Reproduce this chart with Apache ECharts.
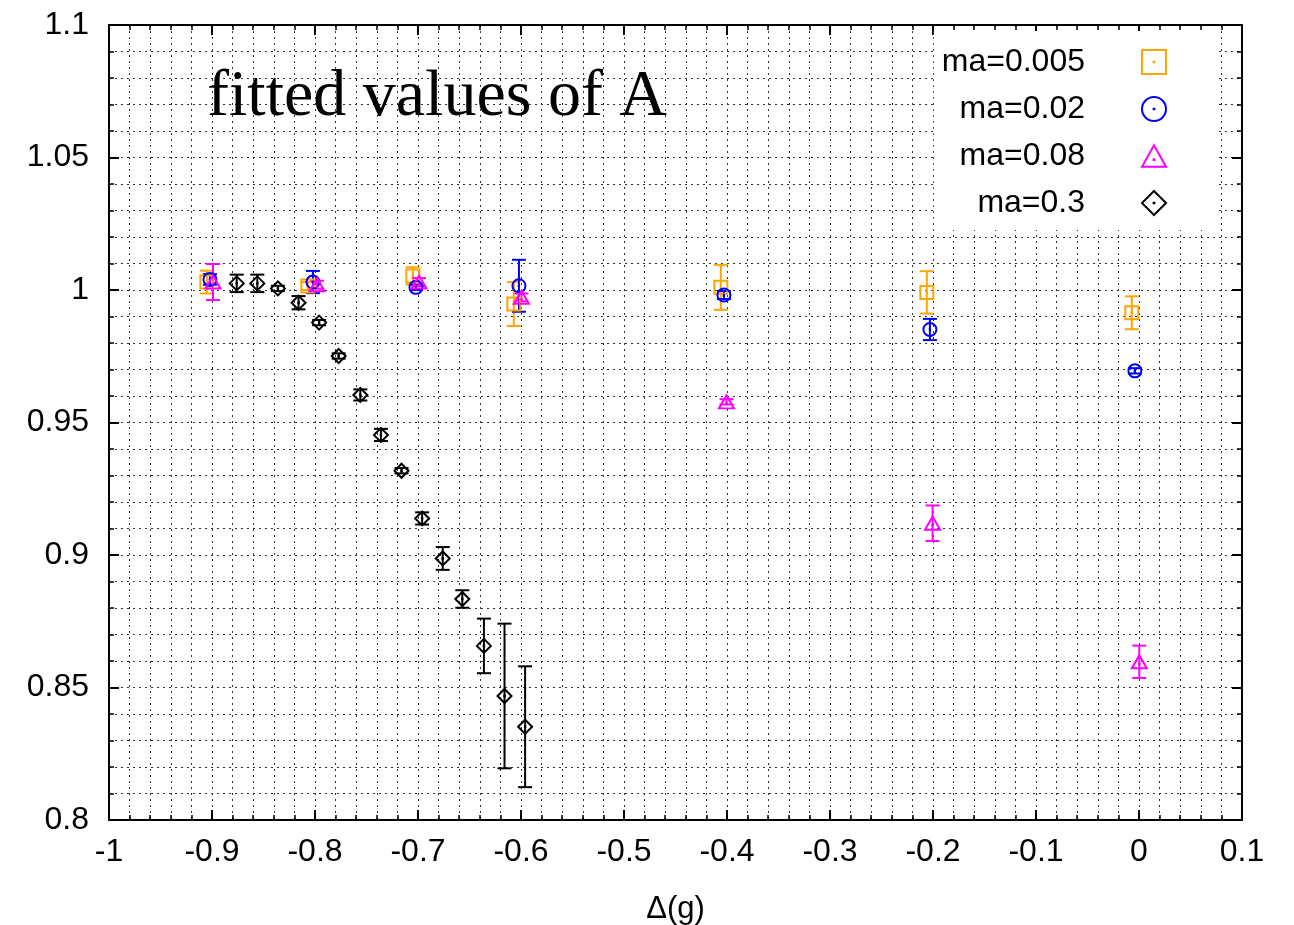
<!DOCTYPE html>
<html>
<head>
<meta charset="utf-8">
<script src="https://cdn.jsdelivr.net/npm/echarts@6/dist/echarts.min.js"></script>
<style>
html,body{margin:0;padding:0;background:#fff;}
#chart{width:1294px;height:925px;}
</style>
</head>
<body>
<div id="chart"></div>
<script>
// ---- data ----
var seriesNames = ['ma=0.005', 'ma=0.02', 'ma=0.08', 'ma=0.3'];

var x005 = [-0.905, -0.807, -0.705, -0.607, -0.406, -0.206, -0.007];
var y005 = [1.0030, 1.0015, 1.0053, 0.9947, 1.0010, 0.9991, 0.9914];
var e005 = [0.0043, 0.0015, 0.0033, 0.0083, 0.0085, 0.0080, 0.0062];

var x02 = [-0.902, -0.802, -0.702, -0.602, -0.403, -0.203, -0.004];
var y02 = [1.0040, 1.0030, 1.0010, 1.0016, 0.9981, 0.9851, 0.9695];
var e02 = [0.0020, 0.0042, 0.0010, 0.0098, 0.0015, 0.0040, 0.0010];

var x08 = [-0.899, -0.798, -0.699, -0.5996, -0.4005, -0.2004, 0.0003];
var y08 = [1.0030, 1.0020, 1.0030, 0.9972, 0.9578, 0.9120, 0.8597];
var e08 = [0.0068, 0.0015, 0.0015, 0.0015, 0.0010, 0.0067, 0.0061];

var x3 = [-0.876, -0.856, -0.836, -0.816, -0.796, -0.777, -0.756, -0.736, -0.716, -0.696, -0.676, -0.657, -0.636, -0.616, -0.596];
var y3 = [1.0025, 1.0025, 1.0006, 0.9952, 0.9877, 0.9751, 0.9604, 0.9453, 0.9318, 0.9138, 0.8987, 0.8834, 0.8657, 0.8468, 0.8352];
var e3 = [0.0033, 0.0033, 0.0010, 0.0025, 0.0010, 0.0010, 0.0021, 0.0023, 0.0010, 0.0023, 0.0043, 0.0033, 0.0103, 0.0273, 0.0228];

var titleText = 'fitted values of A';
var xAxisName = 'Δ(g)';

// ---- styling ----
var colors = ['#ffa500', '#0000ff', '#ff00ff', '#000000'];
var DOT = ' M4.85,4.85L5.15,4.85L5.15,5.15L4.85,5.15Z';
var symbols = [
  'path://M0,0L10,0L10,10L0,10Z' + DOT,
  'path://M0,5A5,5,0,1,1,10,5A5,5,0,1,1,0,5Z' + DOT,
  'path://M5,0L10,9L0,9Z M4.85,5.85L5.15,5.85L5.15,6.15L4.85,6.15Z',
  'path://M5,0L10,5L5,10L0,5Z' + DOT
];
var symSizes = [[13,13],[13,13],[15,13],[14,14]];

var xs = [x005, x02, x08, x3], ys = [y005, y02, y08, y3], es = [e005, e02, e08, e3];

var series = [];
for (var k = 0; k < 4; k++) {
  var errData = [], ptData = [];
  for (var i = 0; i < xs[k].length; i++) {
    errData.push([xs[k][i], ys[k][i] - es[k][i], ys[k][i] + es[k][i]]);
    ptData.push([xs[k][i], ys[k][i]]);
  }
  (function (col) {
    series.push({
      type: 'custom',
      name: seriesNames[k] + ' err',
      silent: true,
      z: 3,
      data: errData,
      renderItem: function (params, api) {
        var lo = api.coord([api.value(0), api.value(1)]);
        var hi = api.coord([api.value(0), api.value(2)]);
        var c = 7;
        var st = { stroke: col, lineWidth: 2 };
        return {
          type: 'group',
          children: [
            { type: 'line', shape: { x1: lo[0], y1: lo[1], x2: hi[0], y2: hi[1] }, style: st },
            { type: 'line', shape: { x1: lo[0] - c, y1: lo[1], x2: lo[0] + c, y2: lo[1] }, style: st },
            { type: 'line', shape: { x1: hi[0] - c, y1: hi[1], x2: hi[0] + c, y2: hi[1] }, style: st }
          ]
        };
      }
    });
  })(colors[k]);
  series.push({
    type: 'scatter',
    name: seriesNames[k],
    z: 4,
    symbol: symbols[k],
    symbolSize: symSizes[k],
    data: ptData,
    itemStyle: { color: 'rgba(0,0,0,0)', borderColor: colors[k], borderWidth: 2, opacity: 1 },
    emphasis: { disabled: true }
  });
}

var gridLine = { show: true, lineStyle: { color: '#333', type: [2, 4], width: 1 } };
var labelFont = { fontFamily: 'Liberation Sans', fontSize: 32, color: '#000' };

function makeX(pos, main) {
  return {
    type: 'value', position: pos, min: -1, max: 0.1, interval: 0.1,
    name: main ? xAxisName : '', nameLocation: 'middle', nameGap: 74,
    nameTextStyle: { fontFamily: 'Liberation Sans', fontSize: 31, color: '#000' },
    axisLine: { show: true, onZero: false, lineStyle: { color: '#000', width: 2 } },
    axisTick: { show: true, inside: true, length: 10, lineStyle: { color: '#000', width: 2 } },
    minorTick: { show: true, splitNumber: 5, length: 5, lineStyle: { color: '#000', width: 1.5 } },
    axisLabel: Object.assign({ show: main, margin: 16 }, labelFont),
    splitLine: main ? gridLine : { show: false },
    minorSplitLine: main ? gridLine : { show: false }
  };
}
function makeY(pos, main) {
  return {
    type: 'value', position: pos, min: 0.8, max: 1.1, interval: 0.05,
    axisLine: { show: true, onZero: false, lineStyle: { color: '#000', width: 2 } },
    axisTick: { show: true, inside: true, length: 10, lineStyle: { color: '#000', width: 2 } },
    minorTick: { show: true, splitNumber: 5, length: 5, lineStyle: { color: '#000', width: 1.5 } },
    axisLabel: Object.assign({ show: main, margin: 20 }, labelFont),
    splitLine: main ? gridLine : { show: false },
    minorSplitLine: main ? gridLine : { show: false }
  };
}

var legendData = seriesNames.map(function (n, k) {
  return {
    name: n, icon: symbols[k],
    itemStyle: { color: 'rgba(0,0,0,0)', borderColor: colors[k], borderWidth: 2 }
  };
});

var chart = echarts.init(document.getElementById('chart'), null, { renderer: 'canvas' });
chart.setOption({
  animation: false,
  backgroundColor: '#fff',
  title: {
    text: titleText, left: 202, top: 60,
    textStyle: { fontFamily: 'Liberation Serif', fontSize: 66, fontWeight: 'normal', color: '#000' }
  },
  grid: { left: 109, right: 52, top: 25, bottom: 105, containLabel: false, outerBoundsMode: 'none' },
  xAxis: [makeX('bottom', true), makeX('top', false)],
  yAxis: [makeY('left', true), makeY('right', false)],
  legend: {
    orient: 'vertical', align: 'right', right: 76, top: 31,
    backgroundColor: '#fff', padding: [14, 51, 10, 8],
    itemWidth: 24, itemHeight: 24, itemGap: 13,
    selectedMode: false,
    textStyle: { fontFamily: 'Liberation Sans', fontSize: 32, color: '#000', lineHeight: 34, padding: [0, 52, 0, 0] },
    data: legendData
  },
  series: series
});
</script>
</body>
</html>
